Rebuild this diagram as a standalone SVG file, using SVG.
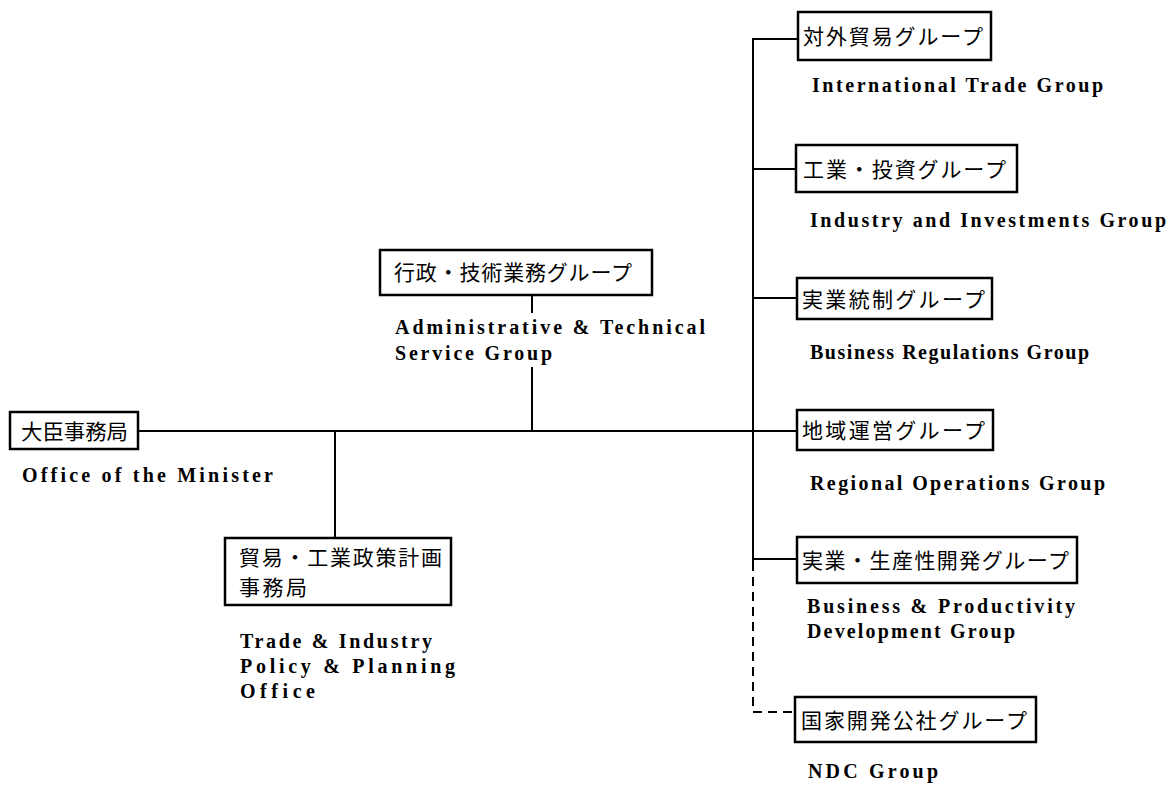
<svg xmlns="http://www.w3.org/2000/svg" width="1173" height="787" viewBox="0 0 1173 787">
<style>
.box{fill:#fff;stroke:#000;stroke-width:2.5}
.jp{font-family:"Noto Sans CJK JP","Noto Sans CJK SC",sans-serif;font-size:21px;fill:#000}
.en{font-family:"Liberation Serif",serif;font-size:20px;font-weight:bold;fill:#000}
.ln{stroke:#000;stroke-width:2;fill:none}
.dash{stroke:#000;stroke-width:2;fill:none;stroke-dasharray:9 6}
</style>
<rect width="1173" height="787" fill="#fff"/>
<g id="connectors">
<line class="ln" x1="138" y1="431" x2="797" y2="431"/>
<line class="ln" x1="335" y1="431" x2="335" y2="538"/>
<line class="ln" x1="532" y1="295" x2="532" y2="313"/>
<line class="ln" x1="532" y1="367" x2="532" y2="431"/>
<polyline class="ln" points="797,39 753,39 753,562"/>
<line class="ln" x1="753" y1="169" x2="796" y2="169"/>
<line class="ln" x1="753" y1="298" x2="797" y2="298"/>
<line class="ln" x1="753" y1="559" x2="797" y2="559"/>
<polyline class="dash" points="753,562 753,712 795,712"/>
</g>
<g id="n-minister">
<rect class="box" x="10" y="412" width="128" height="37"/>
<text class="jp" x="21" y="439" textLength="107" lengthAdjust="spacingAndGlyphs">大臣事務局</text>
<text class="en" x="22" y="482" textLength="251" lengthAdjust="spacing">Office of the Minister</text>
</g>
<g id="n-admin">
<rect class="box" x="380" y="250" width="272" height="45"/>
<text class="jp" x="394" y="280" textLength="238" lengthAdjust="spacing">行政・技術業務グループ</text>
<text class="en" x="395" y="334" textLength="310" lengthAdjust="spacing">Administrative &amp; Technical</text>
<text class="en" x="395" y="360" textLength="157" lengthAdjust="spacing">Service Group</text>
</g>
<g id="n-policy">
<rect class="box" x="225" y="538" width="226" height="67"/>
<text class="jp" x="239" y="565" textLength="203" lengthAdjust="spacing">貿易・工業政策計画</text>
<text class="jp" x="239" y="595" textLength="68" lengthAdjust="spacing">事務局</text>
<text class="en" x="240" y="648" textLength="192" lengthAdjust="spacing">Trade &amp; Industry</text>
<text class="en" x="240" y="673" textLength="215" lengthAdjust="spacing">Policy &amp; Planning</text>
<text class="en" x="240" y="698" textLength="75" lengthAdjust="spacing">Office</text>
</g>
<g id="n-trade">
<rect class="box" x="798" y="12" width="193" height="48"/>
<text class="jp" x="803" y="44" textLength="180" lengthAdjust="spacing">対外貿易グループ</text>
<text class="en" x="812" y="92" textLength="291" lengthAdjust="spacing">International Trade Group</text>
</g>
<g id="n-industry">
<rect class="box" x="796" y="145" width="221" height="47"/>
<text class="jp" x="803" y="177" textLength="203" lengthAdjust="spacing">工業・投資グループ</text>
<text class="en" x="810" y="227" textLength="356" lengthAdjust="spacing">Industry and Investments Group</text>
</g>
<g id="n-regulation">
<rect class="box" x="797" y="278" width="195" height="41"/>
<text class="jp" x="802" y="307" textLength="183" lengthAdjust="spacing">実業統制グループ</text>
<text class="en" x="810" y="359" textLength="279" lengthAdjust="spacing">Business Regulations Group</text>
</g>
<g id="n-regional">
<rect class="box" x="797" y="410" width="196" height="40"/>
<text class="jp" x="802" y="438" textLength="183" lengthAdjust="spacing">地域運営グループ</text>
<text class="en" x="810" y="490" textLength="295" lengthAdjust="spacing">Regional Operations Group</text>
</g>
<g id="n-productivity">
<rect class="box" x="797" y="537" width="280" height="46"/>
<text class="jp" x="802" y="568" textLength="267" lengthAdjust="spacing">実業・生産性開発グループ</text>
<text class="en" x="807" y="613" textLength="268" lengthAdjust="spacing">Business &amp; Productivity</text>
<text class="en" x="807" y="638" textLength="208" lengthAdjust="spacing">Development Group</text>
</g>
<g id="n-ndc">
<rect class="box" x="795" y="697" width="241" height="45"/>
<text class="jp" x="801" y="728" textLength="226" lengthAdjust="spacing">国家開発公社グループ</text>
<text class="en" x="808" y="778" textLength="130" lengthAdjust="spacing">NDC  Group</text>
</g>
</svg>
